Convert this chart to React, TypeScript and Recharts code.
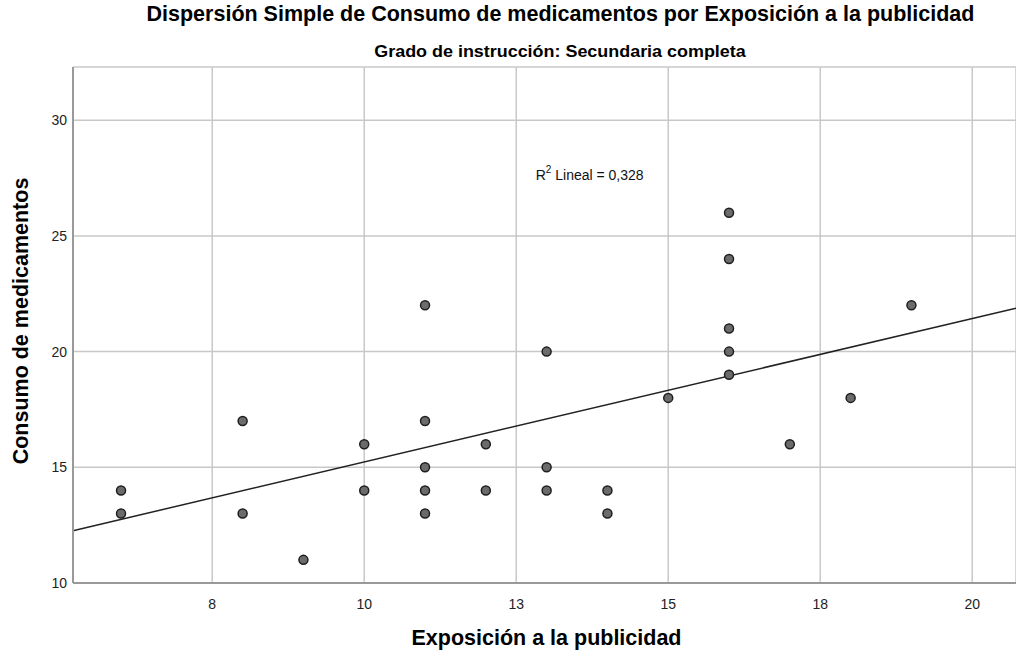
import { CartesianGrid, ReferenceDot, ReferenceLine, Scatter, ScatterChart, XAxis, YAxis } from "recharts";

const FONT = '"Liberation Sans", Arial, sans-serif';

// Exposición a la publicidad (x) / Consumo de medicamentos (y)
const exposicion = [6, 6, 8, 8, 9, 10, 10, 11, 11, 11, 11, 11, 12, 12, 13, 13, 13, 14, 14, 15, 16, 16, 16, 16, 16, 17, 18, 19];
const consumo = [14, 13, 17, 13, 11, 16, 14, 22, 17, 15, 14, 13, 16, 14, 20, 15, 14, 14, 13, 18, 26, 24, 21, 20, 19, 16, 18, 22];

const xTicks = [7.5, 10, 12.5, 15, 17.5, 20];
const xTickLabels = ["8", "10", "13", "15", "18", "20"];
const yTicks = [10, 15, 20, 25, 30];

const xDomain = [5.21, 20.72];
const yDomain = [10, 32.3];

// recta de ajuste lineal
const intercepto = 9.03;
const pendiente = 0.62;
const r2 = "0,328";

const puntos = exposicion.map((x, i) => ({ x, y: consumo[i] }));

const Punto = (p: any) => (
  <circle cx={p.cx} cy={p.cy} r={4.5} fill="#6b6b6b" stroke="#1e1e1e" strokeWidth={1.5} />
);

const EtiquetaR2 = (p: any) => (
  <text x={p.cx} y={p.cy} fontFamily={FONT} fontSize={14} fill="#111" dominantBaseline="middle">
    <tspan>R</tspan>
    <tspan fontSize={10} dy={-6}>2</tspan>
    <tspan dy={6}> Lineal = {r2}</tspan>
  </text>
);

const titulo: React.CSSProperties = { position: "absolute", textAlign: "center", fontWeight: "bold", color: "#000", whiteSpace: "nowrap" };

export default function App() {
  return (
    <div style={{ position: "absolute", left: 0, top: 0, width: 1016, height: 656, background: "#fff", fontFamily: FONT }}>
      <div style={{ ...titulo, left: 0, width: 1121, top: 2, fontSize: 21.5 }}>
        Dispersión Simple de Consumo de medicamentos por Exposición a la publicidad
      </div>
      <div style={{ ...titulo, left: 0, width: 1120, top: 43, fontSize: 16, transform: "scaleX(1.12)", transformOrigin: "560px 0" }}>
        Grado de instrucción: Secundaria completa
      </div>
      <div
        style={{
          ...titulo,
          left: 21,
          top: 321,
          transform: "translate(-50%, -50%) rotate(-90deg)",
          fontSize: 21.5,
        }}
      >
        Consumo de medicamentos
      </div>
      <div style={{ ...titulo, left: 0, width: 1093, top: 626, fontSize: 21.5 }}>
        Exposición a la publicidad
      </div>
      <div style={{ position: "absolute", left: 0, top: 0 }}>
        <ScatterChart width={1016} height={656} margin={{ top: 67, right: 0, bottom: 0, left: 0 }}>
          <CartesianGrid stroke="#c8c8c8" strokeWidth={1.5} />
          <XAxis
            type="number"
            dataKey="x"
            domain={xDomain}
            ticks={xTicks}
            allowDataOverflow
            tickFormatter={(v: number) => xTickLabels[xTicks.indexOf(v)]}
            height={73}
            tickLine={false}
            tickSize={0}
            tickMargin={16}
            stroke="#999"
            strokeWidth={2}
            tick={{ fill: "#222", fontSize: 14, fontFamily: FONT }}
          />
          <YAxis
            type="number"
            dataKey="y"
            domain={yDomain}
            ticks={yTicks}
            allowDataOverflow
            width={73}
            tickLine={false}
            tickSize={0}
            tickMargin={6}
            stroke="#999"
            strokeWidth={2}
            tick={{ fill: "#222", fontSize: 14, fontFamily: FONT }}
          />
          <ReferenceLine
            segment={[
              { x: xDomain[0], y: intercepto + pendiente * xDomain[0] },
              { x: xDomain[1], y: intercepto + pendiente * xDomain[1] },
            ]}
            stroke="#222"
            strokeWidth={1.5}
          />
          <Scatter data={puntos} shape={Punto} isAnimationActive={false} />
          <ReferenceDot x={12.82} y={27.6} r={0} shape={EtiquetaR2} />
        </ScatterChart>
      </div>
    </div>
  );
}
